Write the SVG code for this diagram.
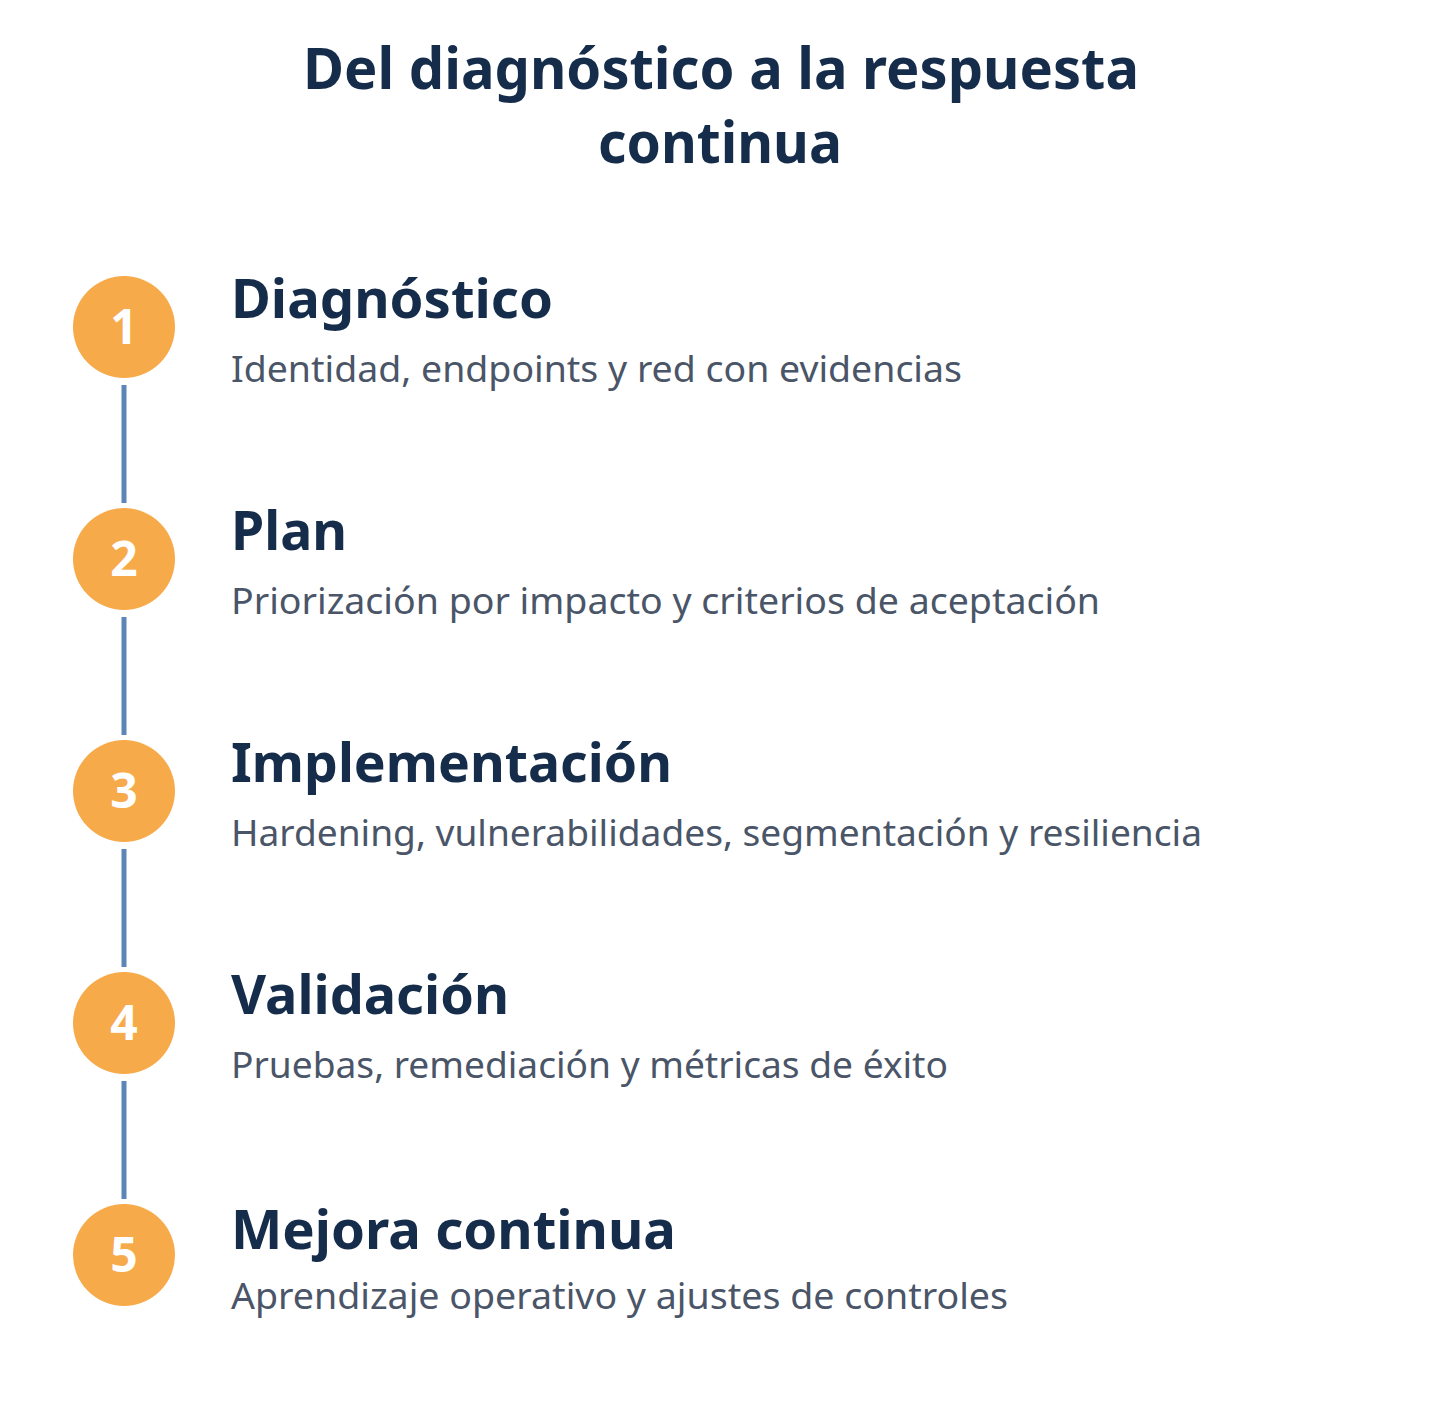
<svg xmlns="http://www.w3.org/2000/svg" width="1440" height="1404" viewBox="0 0 1440 1404">
<style>
.title{font-family:"Noto Sans","Open Sans",sans-serif;font-weight:700;font-size:57px;fill:#152c4a;text-anchor:middle}
.head{font-family:"Noto Sans","Open Sans",sans-serif;font-weight:700;font-size:54px;fill:#152c4a}
.sub{font-family:"Noto Sans","Open Sans",sans-serif;font-weight:400;font-size:37px;fill:#4a5568}
.num{font-family:"Noto Sans","Open Sans",sans-serif;font-weight:700;font-size:48px;fill:#ffffff;text-anchor:middle}
.dot{fill:#f7aa4a}
.link{stroke:#5b87b8;stroke-width:5;fill:none}
</style>
<rect width="1440" height="1404" fill="#ffffff"/>
<g id="title">
<text class="title" x="721" y="89" textLength="836" lengthAdjust="spacingAndGlyphs">Del diagnóstico a la respuesta</text>
<text class="title" x="720" y="163" textLength="244" lengthAdjust="spacingAndGlyphs">continua</text>
</g>
<g id="connectors">
<line class="link" x1="124" y1="385" x2="124" y2="503"/>
<line class="link" x1="124" y1="617" x2="124" y2="735"/>
<line class="link" x1="124" y1="849" x2="124" y2="967"/>
<line class="link" x1="124" y1="1081" x2="124" y2="1199"/>
</g>
<g id="step1">
<circle class="dot" cx="124" cy="327" r="51"/>
<text class="num" x="124" y="344">1</text>
<text class="head" x="231" y="318" textLength="322" lengthAdjust="spacingAndGlyphs">Diagnóstico</text>
<text class="sub" x="231" y="382" textLength="731" lengthAdjust="spacingAndGlyphs">Identidad, endpoints y red con evidencias</text>
</g>
<g id="step2">
<circle class="dot" cx="124" cy="559" r="51"/>
<text class="num" x="124" y="576">2</text>
<text class="head" x="231" y="550" textLength="116" lengthAdjust="spacingAndGlyphs">Plan</text>
<text class="sub" x="231" y="614" textLength="869" lengthAdjust="spacingAndGlyphs">Priorización por impacto y criterios de aceptación</text>
</g>
<g id="step3">
<circle class="dot" cx="124" cy="791" r="51"/>
<text class="num" x="124" y="808">3</text>
<text class="head" x="231" y="782" textLength="441" lengthAdjust="spacingAndGlyphs">Implementación</text>
<text class="sub" x="231" y="846" textLength="971" lengthAdjust="spacingAndGlyphs">Hardening, vulnerabilidades, segmentación y resiliencia</text>
</g>
<g id="step4">
<circle class="dot" cx="124" cy="1023" r="51"/>
<text class="num" x="124" y="1040">4</text>
<text class="head" x="231" y="1014" textLength="278" lengthAdjust="spacingAndGlyphs">Validación</text>
<text class="sub" x="231" y="1078" textLength="717" lengthAdjust="spacingAndGlyphs">Pruebas, remediación y métricas de éxito</text>
</g>
<g id="step5">
<circle class="dot" cx="124" cy="1255" r="51"/>
<text class="num" x="124" y="1272">5</text>
<text class="head" x="231" y="1249" textLength="445" lengthAdjust="spacingAndGlyphs">Mejora continua</text>
<text class="sub" x="231" y="1309" textLength="777" lengthAdjust="spacingAndGlyphs">Aprendizaje operativo y ajustes de controles</text>
</g>
</svg>
